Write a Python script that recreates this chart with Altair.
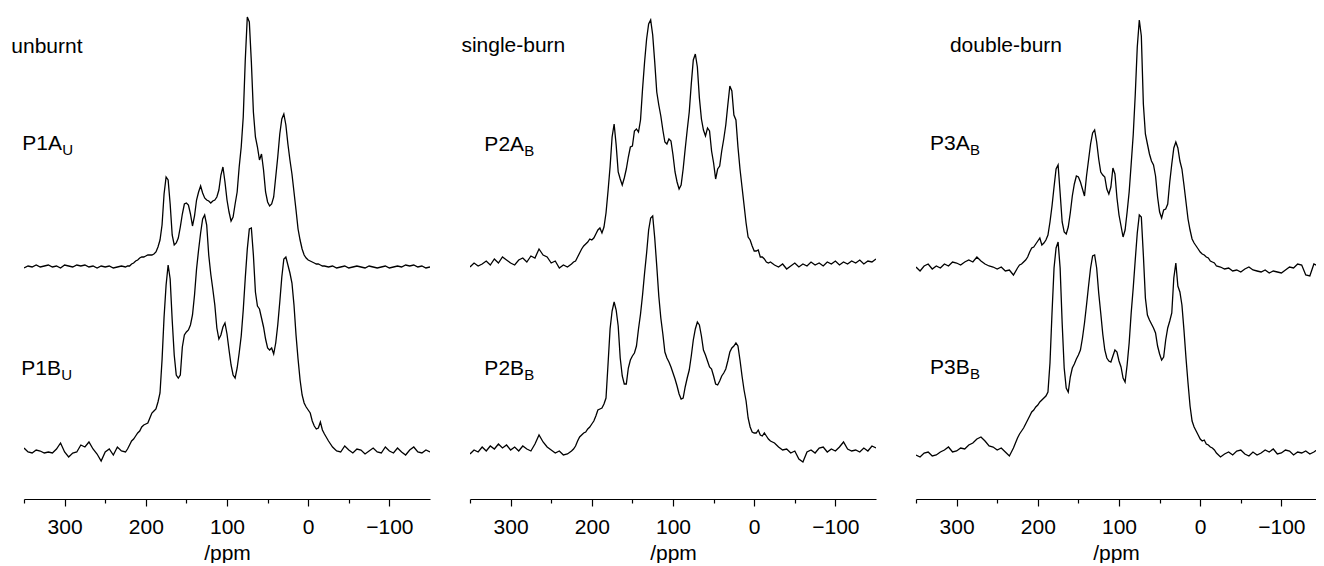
import altair as alt
import pandas as pd

# ppm grid: 350..225 (step 5), 222.5..-20 (step 2.5), -25..-150 (step 5)
PPM = ([350 - 5 * i for i in range(26)]
       + [222.5 - 2.5 * i for i in range(98)]
       + [-25 - 5 * i for i in range(26)])

P1A = ([-1, 1, 0, 2, 0, 1, 2, 0, 1, -1, 2, 1, 0, 2, 1, 2, 0, 1, -1, 1, 0, 1, -1, 0, 1, 0]
       + [1, 1, 3, 4, 6, 7, 9, 10, 10, 11,
          12, 12, 12, 13, 15, 20, 27, 42, 73, 90,
          87, 63, 32, 22, 24, 29, 40, 53, 63, 64,
          62, 53, 41, 51, 67, 75, 81, 74, 69, 67,
          66, 64, 66, 67, 70, 77, 92, 100, 85, 67,
          55, 46, 50, 63, 75, 100, 120, 150, 207, 250,
          245, 205, 155, 130, 120, 107, 113, 97, 75, 65,
          61, 63, 70, 90, 110, 133, 148, 153, 142, 123,
          107, 93, 75, 57, 38, 27, 18, 12, 9, 7,
          6, 5, 4, 3, 3, 2, 1, 1]
       + [0, 1, -1, 0, 1, -1, 0, 1, 0, -1, 1, 0, -1, 0, 1, -1, 0, 1, 0, 2, 1, 2, 0, 1, -1, 0])

P1B = ([7, 3, 2, 5, 4, 2, 3, 2, 6, 12, 3, -2, 2, 3, 10, 8, 13, 6, 1, -6, 3, 6, 0, 8, 4, 3]
       + [6, 10, 14, 16, 19, 22, 24, 28, 30, 31,
          32, 37, 42, 44, 46, 53, 62, 95, 138, 170,
          190, 176, 135, 100, 80, 77, 80, 108, 120, 123,
          125, 130, 140, 160, 186, 205, 222, 236, 240, 230,
          200, 181, 166, 150, 127, 116, 120, 128, 132, 121,
          105, 90, 80, 77, 87, 102, 119, 145, 177, 206,
          226, 227, 200, 163, 149, 146, 137, 128, 116, 107,
          105, 107, 101, 112, 130, 153, 178, 196, 198, 190,
          182, 172, 150, 120, 96, 75, 60, 52, 48, 45,
          42, 34, 29, 26, 27, 33, 25, 21]
       + [14, 8, 4, 3, 9, 5, 2, 6, 5, 1, 4, 7, 3, 2, 8, 4, 2, 7, 3, 0, 5, 8, 3, 2, 5, 3])

P2A = ([0, 4, 1, 3, 6, 2, 8, 4, 10, 7, 4, 2, 7, 9, 5, 11, 9, 18, 12, 10, 4, 6, -1, 2, 0, 3]
       + [5, 6, 10, 14, 18, 21, 23, 25, 28, 27,
          29, 33, 37, 39, 34, 40, 54, 76, 100, 130,
          143, 122, 95, 88, 82, 89, 98, 110, 120, 121,
          136, 138, 135, 147, 178, 205, 228, 243, 247, 232,
          205, 175, 162, 151, 137, 125, 123, 128, 126, 112,
          95, 85, 78, 82, 98, 118, 137, 155, 183, 207,
          213, 200, 169, 148, 137, 131, 139, 136, 116, 104,
          88, 98, 101, 116, 128, 142, 162, 181, 176, 152,
          147, 120, 98, 80, 62, 44, 30, 27, 21, 16,
          16, 17, 10, 10, 8, 5, 4, 5]
       + [2, 0, 3, -2, 1, 4, 0, 3, 1, 5, 2, 4, 1, 5, 3, 6, 2, 5, 3, 6, 4, 7, 3, 6, 5, 8])

P2B = ([2, 6, 4, 9, 5, 10, 7, 12, 8, 11, 6, 9, 5, 10, 7, 5, 12, 21, 14, 9, 6, 3, 5, 1, 2, 5]
       + [7, 10, 15, 19, 21, 23, 24, 27, 29, 32,
          35, 40, 46, 47, 48, 52, 58, 92, 127, 145,
          154, 146, 130, 98, 80, 72, 72, 88, 96, 100,
          103, 110, 127, 142, 161, 183, 203, 226, 238, 240,
          218, 190, 160, 138, 122, 104, 98, 94, 89, 83,
          77, 70, 62, 57, 58, 69, 78, 86, 100, 116,
          127, 134, 131, 120, 106, 101, 95, 89, 87, 80,
          72, 71, 75, 80, 83, 87, 95, 104, 108, 110,
          113, 110, 96, 80, 66, 55, 38, 29, 24, 23,
          23, 26, 21, 20, 23, 20, 17, 15]
       + [13, 9, 6, 7, 3, 5, -3, -6, 4, 6, 3, 8, 9, 4, 7, 5, 9, 14, 7, 5, 6, 4, 8, 5, 10, 8])

P3A = ([5, 1, 6, 8, 3, 6, 4, 8, 6, 10, 9, 7, 10, 12, 10, 15, 11, 8, 6, 5, 3, 5, 1, 2, -3, 4]
       + [7, 8, 10, 12, 15, 20, 24, 25, 28, 31,
          34, 27, 29, 32, 37, 50, 66, 85, 103, 107,
          79, 50, 40, 38, 45, 59, 76, 88, 96, 95,
          90, 83, 76, 96, 112, 128, 139, 142, 130, 113,
          100, 97, 95, 83, 78, 85, 104, 98, 74, 57,
          46, 35, 42, 60, 80, 108, 137, 177, 225, 252,
          236, 168, 138, 128, 118, 111, 107, 96, 75, 60,
          54, 62, 63, 68, 90, 108, 124, 130, 124, 111,
          103, 87, 70, 53, 42, 33, 29, 26, 23, 20,
          18, 17, 15, 14, 11, 10, 9, 6]
       + [5, 3, 4, 1, 2, 0, 3, 5, 2, 1, 0, 2, -1, 1, 0, -1, 2, 5, 4, 8, 7, -3, -4, 8, 6, 5])

P3B = ([3, 1, 5, 6, 2, 3, 6, 8, 11, 6, 7, 10, 9, 13, 15, 19, 21, 17, 12, 11, 8, 10, 6, 2, 10, 20]
       + [24, 27, 30, 34, 38, 42, 46, 48, 51, 53,
          56, 58, 60, 62, 66, 95, 145, 190, 210, 216,
          190, 135, 90, 70, 66, 81, 90, 94, 99, 103,
          108, 120, 135, 153, 172, 190, 202, 203, 190, 165,
          145, 124, 108, 100, 97, 96, 102, 108, 106, 97,
          91, 80, 76, 93, 115, 145, 170, 198, 225, 243,
          241, 203, 160, 143, 138, 134, 130, 125, 112, 104,
          98, 101, 118, 130, 137, 145, 180, 195, 172, 166,
          153, 128, 100, 75, 52, 37, 31, 27, 23, 19,
          17, 18, 14, 13, 11, 10, 8, 5]
       + [1, 4, 6, 3, 7, 8, 4, 2, 6, 3, 5, 8, 6, 9, 4, 5, 8, 7, 3, 6, 5, 7, 4, 6, 9, 7])

SPECTRA = {"P1A": P1A, "P1B": P1B, "P2A": P2A, "P2B": P2B, "P3A": P3A, "P3B": P3B}
# vertical stacking offset of each trace (layout)
OFFSET = {"P1A": 232, "P1B": 44, "P2A": 232, "P2B": 43, "P3A": 227, "P3B": 41}

PANEL_TITLES = ["unburnt", "single-burn", "double-burn"]
PANEL_SAMPLES = [["P1A", "P1B"], ["P2A", "P2B"], ["P3A", "P3B"]]
LABEL_SUB = {"P1A": "U", "P1B": "U", "P2A": "B", "P2B": "B", "P3A": "B", "P3B": "B"}

# annotation anchor positions (ppm, height)
TITLE_POS = [(365.6, 446), (360.6, 447), (308.2, 447)]
LABEL_POS = {"P1A": (352.1, 349), "P1B": (353.3, 124),
             "P2A": (332.3, 348), "P2B": (332.3, 124),
             "P3A": (332.8, 349), "P3B": (332.8, 125)}

FONT = "Liberation Sans"
PANEL_W = 406
PX_PER_PPM = PANEL_W / 500.0
PLOT_H = 489


def panel(i, width):
    lo = 350 - width / PX_PER_PPM
    ticks = [v for v in range(350, -151, -50) if v >= lo - 1e-9]
    rows = []
    for s in PANEL_SAMPLES[i]:
        vals = SPECTRA[s]
        assert len(vals) == len(PPM)
        for p, v in zip(PPM, vals):
            rows.append({"sample": s, "ppm": p, "h": v + OFFSET[s]})
    df = pd.DataFrame(rows)

    xenc = alt.X(
        "ppm:Q",
        scale=alt.Scale(domain=[lo, 350], reverse=True, nice=False, zero=False),
        axis=alt.Axis(
            values=ticks,
            labelExpr="datum.value % 100 === 0 ? datum.label : ''",
            tickSize={"condition": {"test": "datum.value % 100 === 0", "value": 7}, "value": 4},
            labelPadding=10,
            titlePadding=5,
            labelFlush=False,
            labelOverlap=False,
            title="/ppm",
        ),
    )
    yenc = alt.Y("h:Q", scale=alt.Scale(domain=[0, PLOT_H], nice=False, zero=False), axis=None)

    lines = alt.Chart(df).mark_line(color="black", strokeWidth=1.3, clip=True).encode(
        x=xenc, y=yenc, detail="sample:N"
    )

    tdf = pd.DataFrame([{"ppm": TITLE_POS[i][0], "h": TITLE_POS[i][1], "t": PANEL_TITLES[i]}])
    title = alt.Chart(tdf).mark_text(
        align="left", baseline="alphabetic", font=FONT, fontSize=21, color="black"
    ).encode(x=xenc, y=yenc, text="t:N")

    ldf = pd.DataFrame([{"ppm": LABEL_POS[s][0], "h": LABEL_POS[s][1], "t": s, "sub": LABEL_SUB[s]}
                        for s in PANEL_SAMPLES[i]])
    main = alt.Chart(ldf).mark_text(
        align="left", baseline="alphabetic", font=FONT, fontSize=21, color="black"
    ).encode(x=xenc, y=yenc, text="t:N")
    sub = alt.Chart(ldf).mark_text(
        align="left", baseline="alphabetic", font=FONT, fontSize=15, color="black", dx=40, dy=5
    ).encode(x=xenc, y=yenc, text="sub:N")

    return alt.layer(lines, title, main, sub).properties(width=width, height=PLOT_H)


chart = alt.hconcat(
    panel(0, PANEL_W), panel(1, PANEL_W), panel(2, 400), spacing=40, bounds="flush"
).properties(
    padding={"left": 3, "top": 2, "right": 0, "bottom": 0}
).configure_view(stroke=None).configure_axis(
    grid=False,
    domainColor="black",
    domainWidth=1.2,
    tickColor="black",
    tickWidth=1.2,
    labelColor="black",
    titleColor="black",
    labelFont=FONT,
    titleFont=FONT,
    labelFontSize=21,
    titleFontSize=21,
    titleFontWeight="normal",
)

chart.save("out.html", embed_options={"renderer": "svg", "actions": False})
